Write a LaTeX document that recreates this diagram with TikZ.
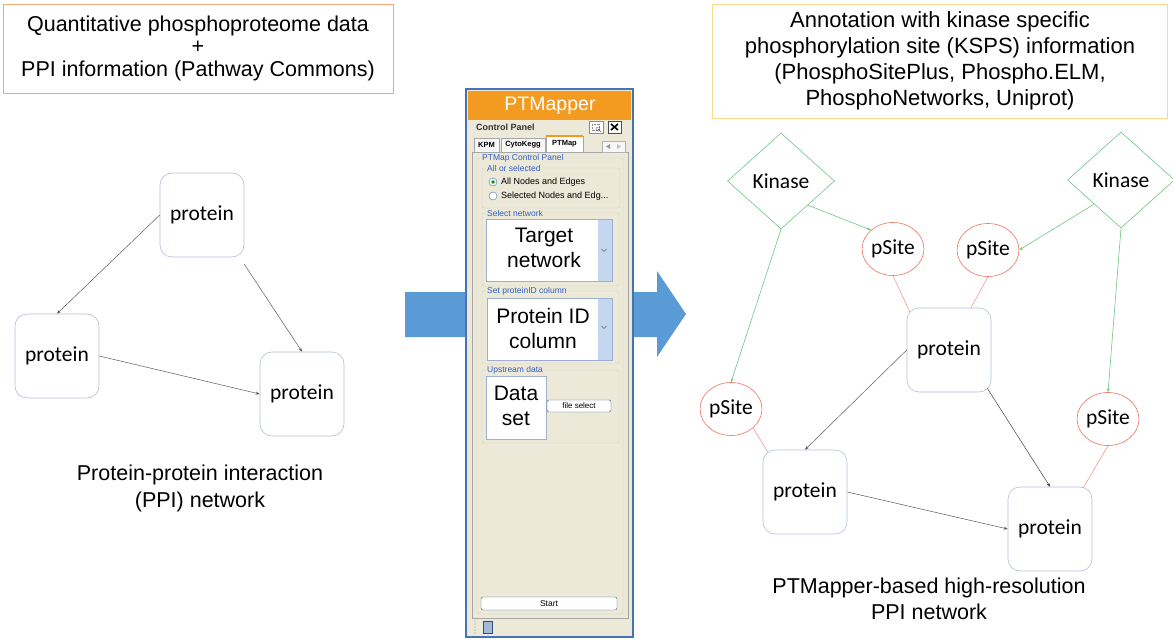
\documentclass[tikz,border=0pt]{standalone}
\usepackage{fontspec}
\setmainfont{Liberation Sans}
\newfontfamily\calibfont{Carlito}
\usepackage{tikz}
\usetikzlibrary{positioning,shapes.geometric,arrows.meta}

\definecolor{protrand}{HTML}{B3BEDA}
\definecolor{kingruen}{HTML}{6CC684}
\definecolor{siterot}{HTML}{F07060}
\definecolor{pfeilblau}{HTML}{5B9BD5}
\definecolor{rahmenblau}{HTML}{4573B4}
\definecolor{titelorange}{HTML}{F39A21}
\definecolor{panelbeige}{HTML}{ECE9D8}
\definecolor{gruppenrand}{HTML}{D3CFBD}
\definecolor{labelblau}{HTML}{2F5FC8}
\definecolor{quellrand}{RGB}{244,170,120}
\definecolor{boxgelb}{HTML}{F9D98C}
\definecolor{scrollblau}{HTML}{C5D6F0}
\definecolor{feldrand}{HTML}{9DB0CF}

\begin{document}
\begin{tikzpicture}[x=1pt,y=-1pt,
  protein/.style={draw=protrand,line width=0.6pt,rounded corners=12pt,minimum width=84pt,
    minimum height=84pt,inner sep=0pt,font=\calibfont\fontsize{21.5}{25}\selectfont},
  kinase/.style={draw=kingruen,line width=0.6pt,diamond,aspect=1.1,minimum width=107pt,
    minimum height=96pt,inner sep=0pt,font=\calibfont\fontsize{21.5}{25}\selectfont},
  psite/.style={draw=siterot,line width=0.6pt,ellipse,minimum width=61pt,minimum height=53pt,
    inner sep=0pt,font=\calibfont\fontsize{21.5}{25}\selectfont},
  ppi/.style={-{Stealth[length=4pt,width=3pt]},draw=black!65,line width=0.5pt},
  ksps/.style={-{Stealth[length=4pt,width=3pt]},draw=kingruen,line width=0.6pt},
  bindung/.style={draw=siterot!80,line width=0.5pt},
  unter/.style={font=\fontsize{21.5}{27}\selectfont,align=center},
  gruppe/.style={draw=gruppenrand,rounded corners=2pt},
  glabel/.style={anchor=west,fill=panelbeige,inner sep=1pt,text=labelblau,font=\fontsize{8.5}{9}\selectfont},
  feld/.style={font=\fontsize{21}{25}\selectfont,align=center,inner sep=0pt},
  knopf/.style={draw=rahmenblau!80!black,rounded corners=2pt,fill=white,inner sep=0pt,
    font=\fontsize{8}{9}\selectfont},
  klein/.style={anchor=west,inner sep=0pt,font=\fontsize{9}{10}\selectfont},
  reiter/.style={draw=black!35,fill=black!3,font=\bfseries\fontsize{7.5}{9}\selectfont}
]
  \useasboundingbox (0,0) rectangle (1173,639);

  % Kopfzeilen
  \draw[quellrand,line width=0.8pt] (3,4) rectangle (393,93);
  \node[align=center,font=\fontsize{21.5}{22.5}\selectfont] (quelle) at (198,48)
        {Quantitative phosphoproteome data\\+\\PPI information (Pathway Commons)};
  \node[draw=boxgelb,line width=0.7pt,minimum width=455pt,minimum height=114pt,align=center,
        font=\fontsize{22}{26}\selectfont] (ksps) at (940,61)
        {Annotation with kinase specific\\phosphorylation site (KSPS) information\\
         (PhosphoSitePlus, Phospho.ELM,\\PhosphoNetworks, Uniprot)};

  % PPI-Netz links
  \node[protein] (pl-oben) at (202,215) {protein};
  \node[protein] (pl-links) at (57,356) {protein};
  \node[protein] (pl-rechts) at (302,394) {protein};
  \draw[ppi] (pl-oben.west) -- (pl-links.north);
  \draw[ppi] ([yshift=-7pt]pl-oben.south east) -- (pl-rechts.north);
  \draw[ppi] (pl-links.east) -- (pl-rechts.west);
  \node[unter] (ppi-text) at (200,488) {Protein-protein interaction\\(PPI) network};

  % Blauer Pfeil
  \fill[pfeilblau] (405,292) -- (657,292) -- (657,271) -- (686,314) -- (657,357)
    -- (657,337) -- (405,337) -- cycle;

  % Fenster PTMapper
  \filldraw[fill=panelbeige,draw=rahmenblau,line width=2.5pt] (466,89) rectangle (633,637);
  \fill[titelorange] (468,91) rectangle (631,120);
  \node[text=white,font=\fontsize{19.5}{22}\selectfont] (titel) at (550,106) {PTMapper};
  \node[anchor=west,inner sep=0pt,text=black!80,font=\bfseries\fontsize{9}{10}\selectfont]
    (cp) at (476,127) {Control Panel};
  \filldraw[fill=white,draw=black!45] (589,121) rectangle (603,133);
  \draw[black!45,densely dotted] (592,124) rectangle (599,130);
  \draw[black!60] (598,129) circle (2pt) -- (601,132);
  \filldraw[fill=white,draw=black!70] (608,121) rectangle (621,133);
  \draw[black,line width=1.6pt] (611,124) -- (618,130) (618,124) -- (611,130);

  % Reiter
  \draw[black!35] (472,152) rectangle (628,618);
  \node[reiter,minimum width=25pt,minimum height=14pt] (r-kpm) at (486.5,145) {KPM};
  \node[reiter,minimum width=44pt,minimum height=14pt] (r-kegg) at (523,145) {CytoKegg};
  \node[reiter,fill=white,minimum width=37pt,minimum height=16pt] (r-map) at (564.5,144) {PTMap};
  \draw[titelorange,line width=1.5pt] (r-map.north west) -- (r-map.north east);
  \filldraw[fill=black!3,draw=black!30] (602,141) rectangle (625,152);
  \fill[black!40] (610,144) -- (606,146.5) -- (610,149) -- cycle;
  \fill[black!25] (617,144) -- (621,146.5) -- (617,149) -- cycle;

  % Gruppen
  \draw[gruppe] (477,158) rectangle (623,614);
  \node[glabel] (g-map) at (481,158) {PTMap Control Panel};
  \draw[gruppe] (482,168) rectangle (620,208);
  \node[glabel] (g-alle) at (486,168) {All or selected};
  \filldraw[fill=white,draw=rahmenblau] (493,182) circle (4pt);
  \fill[green!60!black] (493,182) circle (1.8pt);
  \node[klein] (r-alle) at (501,182) {All Nodes and Edges};
  \filldraw[fill=white,draw=rahmenblau] (493,196) circle (4pt);
  \node[klein] (r-ausw) at (501,196) {Selected Nodes and Edg...};

  \draw[gruppe] (482,213) rectangle (619,286);
  \node[glabel] (g-netz) at (486,213) {Select network};
  \filldraw[fill=white,draw=feldrand] (486,219) rectangle (612,281);
  \fill[scrollblau] (598,220) rectangle (611.5,280.5);
  \draw[black!60,line width=0.6pt] (601.5,249) -- (604,251.5) -- (606.5,249);
  \node[feld] (f-netz) at (544,248) {Target\\network};

  \draw[gruppe] (482,291) rectangle (619,364);
  \node[glabel] (g-id) at (486,291) {Set proteinID column};
  \filldraw[fill=white,draw=feldrand] (487,298) rectangle (612,360);
  \fill[scrollblau] (598,299) rectangle (611.5,359.5);
  \draw[black!60,line width=0.6pt] (601.5,326) -- (604,328.5) -- (606.5,326);
  \node[feld] (f-id) at (543,328) {Protein ID\\column};

  \draw[gruppe] (482,370) rectangle (619,443);
  \node[glabel] (g-daten) at (486,370) {Upstream data};
  \filldraw[fill=white,draw=feldrand] (486,376) rectangle (546,439);
  \node[feld] (f-daten) at (516,406) {Data\\set};
  \node[knopf,minimum width=64pt,minimum height=12pt] (b-datei) at (579,406) {file select};

  \node[knopf,minimum width=136pt,minimum height=13pt,font=\fontsize{8.5}{10}\selectfont]
    (b-start) at (549,603.5) {Start};

  % Statuszeile
  \foreach \y in {621,624,...,633}{
    \fill[black!40] (475,\y) circle (0.6pt);
  }
  \filldraw[fill=rahmenblau!50,draw=rahmenblau!70!black] (483,621) rectangle (492,633);

  % Netz mit Kinasen rechts
  \node[kinase] (kin1) at (781,181) {Kinase};
  \node[kinase] (kin2) at (1121,180) {Kinase};
  \node[psite] (ps1) at (893,249) {pSite};
  \node[psite] (ps2) at (988,250) {pSite};
  \node[psite] (ps3) at (731,409) {pSite};
  \node[psite] (ps4) at (1108,419) {pSite};
  \node[protein] (pr-mitte) at (949,350) {protein};
  \node[protein] (pr-links) at (805,492) {protein};
  \node[protein] (pr-rechts) at (1050,529) {protein};

  \foreach \a/\b in {kin1.south east/ps1.north west, kin1.south/ps3.north,
                     kin2.south west/ps2.east, kin2.south/ps4.north}{
    \draw[ksps] (\a) -- (\b);
  }
  \draw[bindung] (ps1.south) -- ([shift={(3pt,-4pt)}]pr-mitte.north west);
  \draw[bindung] (ps2.south) -- ([xshift=22pt]pr-mitte.north);
  \draw[bindung] (ps3.south east) -- ([shift={(5pt,-2pt)}]pr-links.north west);
  \draw[bindung] (ps4.south) -- ([shift={(-9pt,-1pt)}]pr-rechts.north east);
  \draw[ppi] (pr-mitte.west) -- (pr-links.north);
  \draw[ppi,draw=black!75] ([shift={(-4pt,4pt)}]pr-mitte.south east) -- (pr-rechts.north);
  \draw[ppi] (pr-links.east) -- (pr-rechts.west);

  \node[unter,font=\fontsize{21.5}{26}\selectfont] (ptm-text) at (929,599)
    {PTMapper-based high-resolution\\PPI network};
\end{tikzpicture}
\end{document}
